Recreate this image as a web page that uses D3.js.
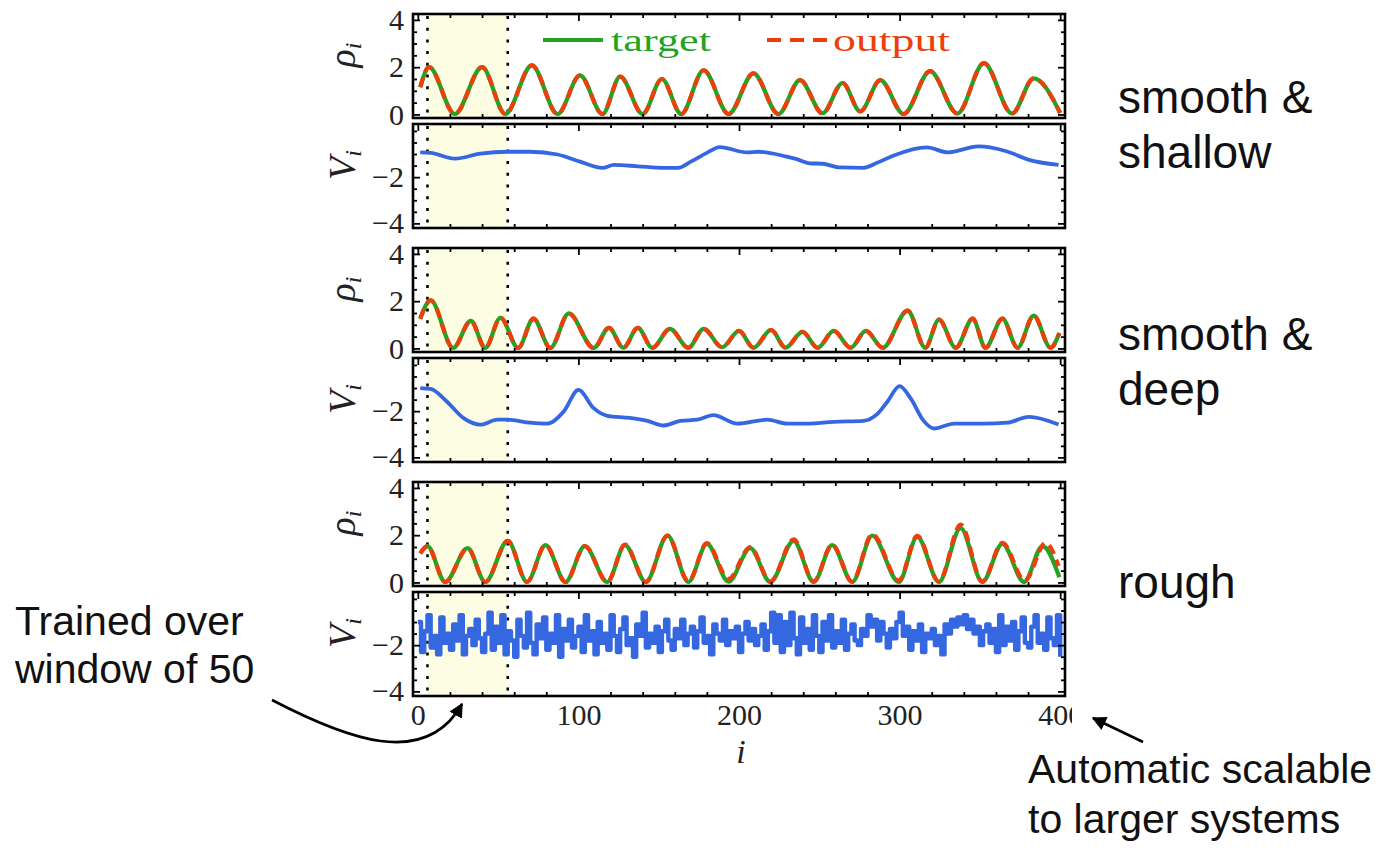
<!DOCTYPE html>
<html>
<head>
<meta charset="utf-8">
<script src="https://cdn.jsdelivr.net/npm/d3@7"></script>
<style>
  body { margin: 0; background: #fff; }
  text { font-family: "Liberation Serif", serif; }
  .note { font-family: "Liberation Sans", Arial, sans-serif; fill: #111; }
</style>
</head>
<body>
<svg id="fig" width="1376" height="852"></svg>
<script>
// ---- data (extrema / sample points) ----
var rho1I   = [1.5, 7, 23, 40, 54.5, 71, 87, 101, 115, 126, 140, 152, 164, 178, 193.5, 209, 224.5, 238, 252, 264.5, 275.5, 288, 302.5, 319, 336, 352.5, 370, 383.5, 400];
var rho1Val = [1.15, 2.0, 0.02, 2.0, 0.02, 2.08, 0.02, 1.65, 0.02, 1.6, 0.02, 1.5, 0.02, 1.87, 0.02, 1.74, 0.02, 1.45, 0.05, 1.33, 0.13, 1.45, 0.02, 1.83, 0.04, 2.17, 0.04, 1.53, 0.06];

var rho2I   = [1.5, 8, 22, 33, 42, 51.5, 62.5, 72, 82.5, 94, 109.5, 119, 128, 137, 146, 157, 168.5, 178, 189.5, 200, 209, 220, 229, 239.5, 249, 259, 269.5, 279, 289.5, 305, 316, 324.5, 335, 345.5, 353.5, 364, 373.5, 383.5, 394, 399.5];
var rho2Val = [1.26, 2.04, 0.02, 1.17, 0.02, 1.3, 0.02, 1.26, 0.02, 1.48, 0.02, 0.87, 0.03, 0.87, 0.03, 0.83, 0.03, 0.83, 0.05, 0.74, 0.03, 0.78, 0.03, 0.7, 0.03, 0.74, 0.03, 0.74, 0.03, 1.6, 0.03, 1.22, 0.03, 1.26, 0.03, 1.26, 0.03, 1.39, 0.03, 0.65];

var rho3I      = [1.5, 6, 17, 31, 42, 56, 68, 79.5, 92, 104, 118, 129, 142, 155.5, 168.5, 180, 193.5, 207, 219.5, 234, 246.5, 258, 270.5, 283, 299.5, 311, 324.5, 338, 351.5, 364, 377.5, 389, 399.5];
var rho3Val    = [1.23, 1.54, 0.02, 1.45, 0.02, 1.76, 0.02, 1.58, 0.02, 1.54, 0.02, 1.58, 0.02, 1.98, 0.02, 1.63, 0.03, 1.45, 0.02, 1.76, 0.02, 1.58, 0.02, 1.98, 0.02, 1.93, 0.02, 2.3, 0.02, 1.63, 0.02, 1.54, 0.22];
var rho3OutI   = [1.5, 6, 17, 31, 42, 56, 68, 79.5, 92, 104, 118, 129, 142, 155.5, 168.5, 180, 193.5, 207, 219.5, 234, 246.5, 258, 270.5, 283, 299.5, 311, 324.5, 338, 351.5, 364, 378, 391, 399];
var rho3OutVal = [1.23, 1.54, 0.02, 1.45, 0.02, 1.76, 0.02, 1.58, 0.02, 1.54, 0.02, 1.6, 0.02, 1.98, 0.05, 1.66, 0.15, 1.5, 0.04, 1.82, 0.04, 1.6, 0.04, 2.04, 0.08, 1.97, 0.04, 2.45, 0.04, 1.68, 0.08, 1.67, 0.7];

var v1I   = [1.5, 8, 23, 39, 56, 70, 87, 101, 115, 122, 137, 153, 162, 170, 180, 188, 205, 212, 229, 236, 244, 252, 263, 277, 286, 296, 317, 330, 349, 367, 380, 399];
var v1Val = [-0.93, -0.95, -1.2, -0.98, -0.9, -0.9, -1.02, -1.33, -1.6, -1.47, -1.53, -1.6, -1.6, -1.33, -0.95, -0.7, -0.93, -0.9, -1.1, -1.22, -1.4, -1.42, -1.58, -1.6, -1.38, -1.07, -0.71, -0.93, -0.67, -0.89, -1.24, -1.47];

var v2I   = [1.5, 8, 18, 28.5, 39, 49.5, 56, 70, 80.5, 91, 100, 109.5, 118, 132, 143, 153, 163.5, 174, 184, 199, 217.5, 230, 242.5, 259, 277.5, 286, 292.5, 300, 307, 315, 321.5, 334, 352, 367, 380.5, 399];
var v2Val = [-1.0, -1.04, -1.58, -2.3, -2.58, -2.37, -2.37, -2.5, -2.54, -2.0, -1.08, -1.87, -2.2, -2.29, -2.42, -2.62, -2.42, -2.37, -2.17, -2.54, -2.37, -2.54, -2.54, -2.46, -2.42, -2.13, -1.58, -0.92, -1.46, -2.42, -2.75, -2.54, -2.54, -2.5, -2.25, -2.58];

// rough potential, every second site i = 0, 2, ..., 400
var v3Val = [
  -1.0, -2.3, -1.4, -0.7, -2.1, -1.6, -2.4, -0.8, -1.9, -1.5,
  -2.2, -1.1, -1.8, -0.7, -2.4, -1.6, -1.3, -2.0, -0.9, -1.7,
  -2.3, -1.5, -0.6, -2.2, -1.2, -1.9, -0.7, -2.4, -1.4, -1.8,
  -2.5, -0.9, -1.6, -2.1, -0.6, -1.9, -2.4, -1.1, -1.7, -0.8,
  -2.2, -1.5, -1.9, -0.7, -2.5, -1.3, -1.8, -0.9, -2.1, -1.6,
  -1.2, -2.3, -0.7, -1.8, -1.4, -2.4, -1.0, -1.9, -1.5, -2.2,
  -0.7, -1.6, -2.3, -1.3, -0.8, -2.0, -1.7, -2.5, -1.1, -1.6,
  -0.6, -2.1, -1.5, -1.9, -1.2, -2.3, -1.4, -0.9, -1.8, -2.2,
  -1.3, -1.7, -0.9, -2.0, -1.5, -1.2, -2.1, -1.4, -0.8, -1.9,
  -1.6, -2.4, -1.1, -1.5, -1.8, -0.9, -2.0, -1.4, -1.7, -1.2,
  -2.3, -1.5, -1.0, -1.8, -1.3, -2.0, -1.6, -1.1, -2.2, -1.4,
  -0.6, -1.9, -0.7, -2.3, -1.0, -2.0, -0.6, -1.7, -2.4, -0.8,
  -1.9, -1.3, -2.2, -0.7, -1.6, -2.3, -1.0, -1.8, -0.7, -2.1,
  -1.4, -1.9, -0.9, -2.2, -1.5, -1.1, -1.8, -2.0, -1.3, -1.6,
  -0.7, -1.2, -0.9, -1.8, -1.0, -1.5, -2.1, -1.3, -1.7, -1.0,
  -0.6, -1.6, -1.2, -2.2, -1.4, -1.8, -1.1, -2.3, -1.5, -1.7,
  -1.3, -2.0, -1.6, -2.4, -1.1, -1.5, -0.9, -1.2, -0.8, -1.1,
  -0.7, -1.3, -0.9, -1.5, -1.2, -2.0, -1.4, -1.1, -1.9, -1.3,
  -2.3, -0.7, -2.0, -1.2, -1.8, -1.0, -2.2, -1.4, -0.8, -1.9,
  -2.1, -1.2, -0.7, -1.9, -1.5, -2.2, -0.8, -1.7, -2.0, -0.7,
  -2.5
];
var v3I = d3.range(0, 401, 2);

var xMajor = [0, 100, 200, 300, 400];
var rhoTicks = [0, 2, 4];
var vTicks = [-4, -2];
var trainWindow = [6, 56];
var sideLabels = [["smooth &", "shallow"], ["smooth &", "deep"], ["rough"]];

// ---- layout ----
var svg = d3.select("#fig"),
    PH = 104,
    groupTop = [14, 248, 482],
    green = "#22a322",
    red = "#ec3f0c",
    blue = "#3568e0";

var x = d3.scaleLinear().domain([-3, 403]).range([413, 1065]);

var defs = svg.append("defs");
defs.append("clipPath").attr("id", "xclip")
    .append("rect").attr("x", 0).attr("y", 0).attr("width", 1072).attr("height", 852);
defs.append("marker")
    .attr("id", "ah").attr("viewBox", "0 0 10 10")
    .attr("refX", 9).attr("refY", 5)
    .attr("markerWidth", 5.5).attr("markerHeight", 5.5)
    .attr("orient", "auto")
    .append("path").attr("d", "M0,0 L10,5 L0,10 z").attr("fill", "#000");

function makeLine(y, curve) {
    return d3.line()
        .x(function(d) { return x(d[0]); })
        .y(function(d) { return y(d[1]); })
        .curve(curve);
}

function zip(a, b) {
    return a.map(function(v, k) { return [v, b[k]]; });
}

function drawPanel(top, domain, ticks, minorStep, showX) {
    var g = svg.append("g");
    var y = d3.scaleLinear().domain(domain).range([top + PH, top]);
    var minor = d3.range(Math.ceil(domain[0] / minorStep) * minorStep, domain[1], minorStep);

    // training window shading + dotted bounds
    g.append("rect")
        .attr("x", x(trainWindow[0])).attr("y", top)
        .attr("width", x(trainWindow[1]) - x(trainWindow[0])).attr("height", PH)
        .attr("fill", "#fdfde3");
    trainWindow.forEach(function(w) {
        g.append("line")
            .attr("x1", x(w)).attr("x2", x(w))
            .attr("y1", top + 2).attr("y2", top + PH)
            .attr("stroke", "#000").attr("stroke-width", 2.6)
            .attr("stroke-dasharray", "3,8.7");
    });

    var axes = svg.append("g").attr("class", "axes");
    function strip(sel) {
        sel.select(".domain").remove();
        sel.selectAll("line").attr("stroke", "#000").attr("stroke-width", 1.8);
        sel.selectAll("text").attr("fill", "#222")
            .style("font-family", "'Liberation Serif', serif").style("font-size", "30px");
    }
    var xTicks = d3.range(20, 400, 20).filter(function(v) { return v % 100 !== 0; });
    var yMinor = minor.filter(function(v) { return ticks.indexOf(v) < 0; });

    axes.append("g").attr("transform", "translate(0," + (top + PH) + ")")
        .call(d3.axisBottom(x).tickValues(xMajor).tickSize(-7).tickPadding(8)
            .tickFormat(showX ? d3.format("d") : ""))
        .call(strip)
        .attr("clip-path", "url(#xclip)");
    axes.append("g").attr("transform", "translate(0," + (top + PH) + ")")
        .call(d3.axisBottom(x).tickValues(xTicks).tickSize(-4).tickFormat(""))
        .call(strip);
    axes.append("g").attr("transform", "translate(0," + top + ")")
        .call(d3.axisTop(x).tickValues(xMajor).tickSize(-7).tickFormat(""))
        .call(strip);
    axes.append("g").attr("transform", "translate(0," + top + ")")
        .call(d3.axisTop(x).tickValues(xTicks).tickSize(-4).tickFormat(""))
        .call(strip);
    axes.append("g").attr("transform", "translate(413,0)")
        .call(d3.axisLeft(y).tickValues(ticks).tickSize(-7).tickPadding(9).tickFormat(d3.format("d")))
        .call(strip);
    axes.append("g").attr("transform", "translate(413,0)")
        .call(d3.axisLeft(y).tickValues(yMinor).tickSize(-4).tickFormat(""))
        .call(strip);
    axes.append("g").attr("transform", "translate(1065,0)")
        .call(d3.axisRight(y).tickValues(ticks).tickSize(-7).tickFormat(""))
        .call(strip);
    axes.append("g").attr("transform", "translate(1065,0)")
        .call(d3.axisRight(y).tickValues(yMinor).tickSize(-4).tickFormat(""))
        .call(strip);

    svg.append("rect")
        .attr("x", 413).attr("y", top).attr("width", 652).attr("height", PH)
        .attr("fill", "none").attr("stroke", "#000").attr("stroke-width", 2.6);

    return {g: g, y: y};
}

function yLabel(top, sym) {
    var t = svg.append("text")
        .attr("transform", "translate(355," + (top + PH / 2 - 11) + ") rotate(-90)")
        .attr("text-anchor", "middle")
        .attr("fill", "#222")
        .style("font-style", "italic");
    t.append("tspan").style("font-size", "38px").text(sym);
    t.append("tspan").style("font-size", "24px").attr("dy", 6).text("i");
}

var rhoData = [
    [zip(rho1I, rho1Val), zip(rho1I, rho1Val)],
    [zip(rho2I, rho2Val), zip(rho2I, rho2Val)],
    [zip(rho3I, rho3Val), zip(rho3OutI, rho3OutVal)]
];
var vData = [zip(v1I, v1Val), zip(v2I, v2Val), zip(v3I, v3Val)];

groupTop.forEach(function(top, k) {
    // density panel
    var p = drawPanel(top, [-0.15, 4.25], rhoTicks, 0.5, false);
    p.g.append("path").datum(rhoData[k][0])
        .attr("d", makeLine(p.y, d3.curveMonotoneX))
        .attr("fill", "none").attr("stroke", green).attr("stroke-width", 4.2);
    p.g.append("path").datum(rhoData[k][1])
        .attr("d", makeLine(p.y, d3.curveMonotoneX))
        .attr("fill", "none").attr("stroke", red).attr("stroke-width", 4.2)
        .attr("stroke-dasharray", "10,6");
    yLabel(top, "\u03C1");

    // potential panel
    var vt = top + 110;
    var q = drawPanel(vt, [-4.2, 0.3], vTicks, 0.5, k === 2);
    q.g.append("path").datum(vData[k])
        .attr("d", makeLine(q.y, k === 2 ? d3.curveStepAfter : d3.curveMonotoneX))
        .attr("fill", "none").attr("stroke", blue)
        .attr("stroke-width", k === 2 ? 4.4 : 3.8)
        .attr("stroke-linejoin", "round");
    yLabel(vt, "V");
});

// x label
svg.append("text").attr("x", 741).attr("y", 763)
    .attr("text-anchor", "middle").attr("fill", "#222")
    .style("font-style", "italic").style("font-size", "34px").text("i");

// legend
svg.append("line").attr("x1", 543).attr("x2", 603).attr("y1", 40).attr("y2", 40)
    .attr("stroke", green).attr("stroke-width", 4.2);
svg.append("text").attr("x", 611).attr("y", 51).attr("fill", green)
    .attr("textLength", 100).attr("lengthAdjust", "spacingAndGlyphs")
    .style("font-size", "32px").text("target");
svg.append("line").attr("x1", 767).attr("x2", 828).attr("y1", 40).attr("y2", 40)
    .attr("stroke", red).attr("stroke-width", 4.2).attr("stroke-dasharray", "14,9");
svg.append("text").attr("x", 833).attr("y", 51).attr("fill", red)
    .attr("textLength", 117).attr("lengthAdjust", "spacingAndGlyphs")
    .style("font-size", "32px").text("output");

// side notes
var sideBase = [113, 350, 598];
sideLabels.forEach(function(lines, k) {
    lines.forEach(function(s, j) {
        svg.append("text").attr("class", "note")
            .attr("x", 1118).attr("y", sideBase[k] + j * 55)
            .style("font-size", "46px").text(s);
    });
});
[["Trained over", 15, 635], ["window of 50", 15, 683],
 ["Automatic scalable", 1028, 783], ["to larger systems", 1028, 833]].forEach(function(n) {
    svg.append("text").attr("class", "note")
        .attr("x", n[1]).attr("y", n[2])
        .style("font-size", "41px").text(n[0]);
});

// arrows
svg.append("path")
    .attr("d", "M272,700 C345,738 425,770 462,704")
    .attr("fill", "none").attr("stroke", "#000").attr("stroke-width", 2.6)
    .attr("marker-end", "url(#ah)");
svg.append("line")
    .attr("x1", 1143).attr("y1", 742).attr("x2", 1093).attr("y2", 718)
    .attr("stroke", "#000").attr("stroke-width", 2.6)
    .attr("marker-end", "url(#ah)");
</script>
</body>
</html>
